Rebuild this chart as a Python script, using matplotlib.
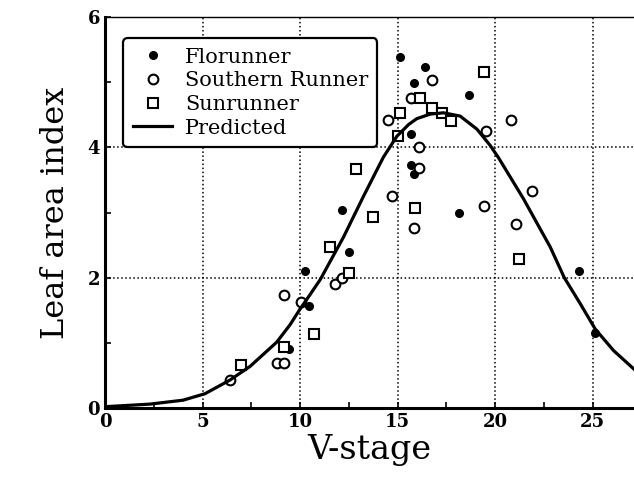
import matplotlib
matplotlib.use("Agg")
import matplotlib.pyplot as plt
import numpy as np

# Florunner (filled circles)
flo_x = [15.13, 16.41, 15.83, 18.68, 15.69, 15.68, 15.85, 18.12, 12.17, 12.51,
         10.26, 24.3, 10.48, 25.1, 9.45]
flo_y = [5.38, 5.23, 4.98, 4.80, 4.21, 3.73, 3.59, 2.99, 3.04, 2.40,
         2.10, 2.10, 1.56, 1.15, 0.91]

# Southern Runner (open circles)
sou_x = [16.75, 15.69, 14.53, 20.8, 19.52, 16.1, 16.1, 14.7, 21.88, 19.44,
         21.04, 15.83, 9.2, 11.78, 12.17, 10.03, 6.41, 8.8, 9.2]
sou_y = [5.04, 4.75, 4.42, 4.42, 4.25, 4.0, 3.69, 3.26, 3.33, 3.10,
         2.83, 2.76, 1.74, 1.91, 2.0, 1.62, 0.43, 0.69, 0.69]

# Sunrunner (open squares)
sun_x = [19.44, 16.12, 15.13, 16.75, 17.26, 17.73, 15.0, 12.85, 15.9, 13.72,
         21.2, 11.52, 12.53, 6.97, 9.15, 10.72]
sun_y = [5.15, 4.75, 4.52, 4.61, 4.52, 4.41, 4.18, 3.67, 3.07, 2.93,
         2.28, 2.47, 2.07, 0.66, 0.93, 1.14]

# Predicted curve
pred_x = [0, 2.31, 4.0, 5.13, 6.41, 7.44, 8.8, 9.49, 10.0, 10.51, 11.03,
          12.22, 13.25, 14.27, 14.96, 15.56, 15.98, 16.67, 17.35, 18.2,
          19.06, 19.74, 20.17, 21.45, 22.82, 23.54, 24.36, 25.13, 26.07, 27.1]
pred_y = [0.02, 0.06, 0.12, 0.22, 0.43, 0.64, 1.01, 1.28, 1.52, 1.74, 1.97,
          2.62, 3.25, 3.85, 4.17, 4.35, 4.44, 4.51, 4.53, 4.48,
          4.28, 4.03, 3.84, 3.21, 2.47, 2.0, 1.60, 1.21, 0.88, 0.60]

plt.rcParams['font.family'] = ['DejaVu Serif']

fig = plt.figure(figsize=(6.34, 4.82), dpi=100)
ax = fig.add_axes([0.1656, 0.1535, 0.834, 0.8112])

ax.plot(flo_x, flo_y, 'o', color='black', markersize=5.5, label='Florunner', zorder=3)
ax.plot(sou_x, sou_y, 'o', markerfacecolor='white', markeredgecolor='black',
        markeredgewidth=1.5, markersize=7, label='Southern Runner', zorder=3)
ax.plot(sun_x, sun_y, 's', markerfacecolor='white', markeredgecolor='black',
        markeredgewidth=1.5, markersize=7, label='Sunrunner', zorder=3)
ax.plot(pred_x, pred_y, '-', color='black', linewidth=2.3, label='Predicted',
        zorder=4, solid_joinstyle='round')

ax.set_xlim(0, 27.1)
ax.set_ylim(0, 6)
ax.set_xticks([0, 5, 10, 15, 20, 25])
ax.set_xticks(np.arange(2.5, 27, 5), minor=True)
ax.set_yticks([0, 2, 4, 6])
ax.set_yticks([1, 3, 5], minor=True)
ax.grid(True, which='major', linestyle=':', color='black', linewidth=1.1)
ax.tick_params(which='both', direction='in', length=4, width=1.2, labelsize=13)
for lab in ax.get_xticklabels() + ax.get_yticklabels():
    lab.set_fontweight('bold')

ax.spines['left'].set_linewidth(2.2)
ax.spines['bottom'].set_linewidth(2.2)
ax.spines['top'].set_linewidth(1.0)
ax.spines['right'].set_visible(False)

ax.set_xlabel('V-stage', fontsize=24, labelpad=2)
ax.set_ylabel('Leaf area index', fontsize=23, labelpad=12)

leg = ax.legend(loc='upper left', bbox_to_anchor=(0.015, 0.972), fontsize=15,
                frameon=True, fancybox=True, edgecolor='black', framealpha=1,
                handlelength=1.9, handletextpad=0.6, labelspacing=0.22,
                borderpad=0.45)
leg.get_frame().set_linewidth(1.6)

fig.savefig('out.png', dpi=100)
